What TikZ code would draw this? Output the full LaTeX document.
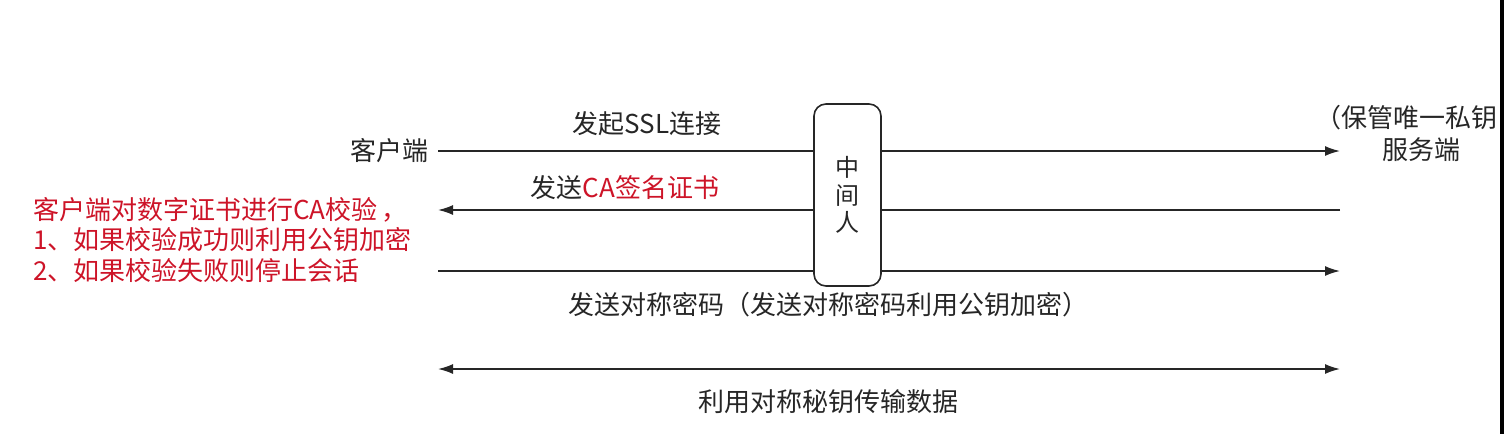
\documentclass[tikz,border=0pt]{standalone}
\usepackage{fontspec}
\setmainfont{Noto Sans CJK SC}
\usetikzlibrary{arrows.meta,positioning}
\definecolor{txtgray}{RGB}{38,38,38}
\definecolor{warnred}{RGB}{205,20,40}

\begin{document}
\begin{tikzpicture}[x=1pt,y=-1pt,
	msg/.style={line width=1.6pt,draw=txtgray,-{Latex[length=15pt,width=10pt]}},
	lbl/.style={font=\fontsize{26}{29}\selectfont,text=txtgray,inner sep=0pt}]
		\useasboundingbox (0,0) rectangle (1504,434);
		\coordinate (c1) at (438,151);
		\coordinate (c2) at (438,210);
		\coordinate (c3) at (438,271);
		\coordinate (c4) at (438,369);
		\coordinate (s1) at (1340,151);
		\coordinate (s2) at (1340,210);
		\coordinate (s3) at (1340,271);
		\coordinate (s4) at (1340,369);
		\draw[msg] (c1) -- (s1);
		\draw[msg] (s2) -- (c2);
		\draw[msg] (c3) -- (s3);
		\draw[msg,{Latex[length=15pt,width=10pt]}-{Latex[length=15pt,width=10pt]}] (c4) -- (s4);
		\node[lbl,draw=txtgray,fill=white,line width=1.6pt,rounded corners=12pt,minimum width=67pt,minimum height=182pt,align=center,font=\fontsize{24}{27.5}\selectfont] (mitm) at (847.5,195) {中\\间\\人};
		\node[lbl,anchor=east] (client) at (429,151) {客户端};
		\node[lbl] (key) at (1406,118) {（保管唯一私钥};
		\node[lbl] (server) at (1421,150) {服务端};
		\node[lbl] (ssl) at (647,124) {发起SSL连接};
		\node[lbl] (cert) at (625,188) {发送\textcolor{warnred}{CA签名证书}};
		\node[lbl] (sym) at (828,305) {发送对称密码（发送对称密码利用公钥加密）};
		\node[lbl] (data) at (828,402) {利用对称秘钥传输数据};
		\node[lbl,anchor=west,align=left,text=warnred,font=\fontsize{26}{30.5}\selectfont] (check) at (33,240) {客户端对数字证书进行CA校验\,，\\1、如果校验成功则利用公钥加密\\2、如果校验失败则停止会话};
		\fill[black] (1500,0) rectangle (1504,434);
	\end{tikzpicture}
\end{document}
